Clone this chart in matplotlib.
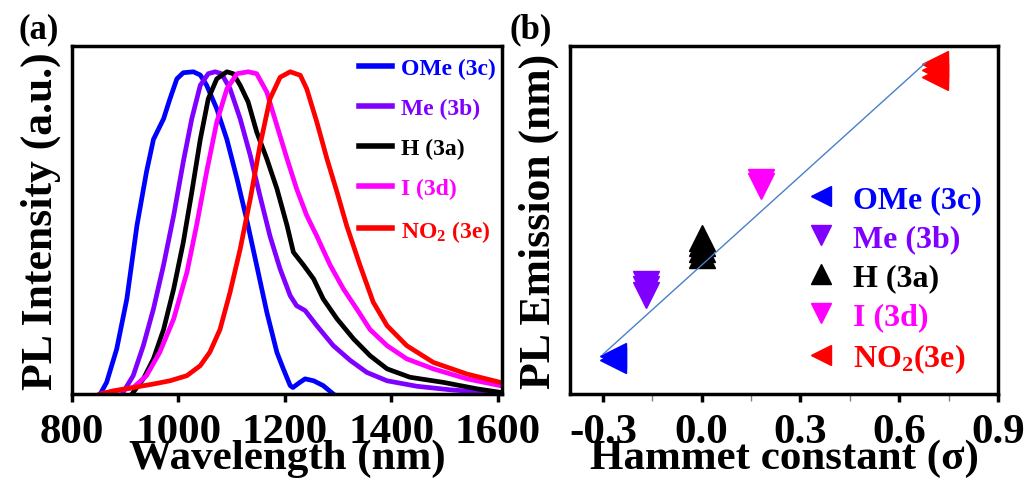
import numpy as np
import matplotlib
matplotlib.use("Agg")
import matplotlib.pyplot as plt

plt.rcParams['font.family'] = ['Liberation Serif', 'DejaVu Serif']
plt.rcParams['font.weight'] = 'bold'
plt.rcParams['mathtext.fontset'] = 'custom'
plt.rcParams['mathtext.rm'] = 'Liberation Serif:bold'
plt.rcParams['mathtext.it'] = 'Liberation Serif:bold'
plt.rcParams['mathtext.default'] = 'rm'

# ---- panel (a): PL spectra (wavelength nm, normalised intensity) ----
ome_wl = [853, 865, 884, 903, 922, 940, 953, 972, 984, 997, 1009, 1028, 1041, 1053, 1072,
          1091, 1110, 1128, 1147, 1166, 1185, 1197, 1210, 1215, 1228, 1238, 1254, 1272, 1291]
ome_int = [0.0, 0.036, 0.14, 0.295, 0.523, 0.69, 0.79, 0.854, 0.916, 0.978, 0.997, 1.0, 0.99,
           0.958, 0.885, 0.79, 0.668, 0.543, 0.399, 0.254, 0.129, 0.078, 0.026, 0.02, 0.036,
           0.047, 0.041, 0.026, 0.0]

me_wl = [896, 915, 934, 953, 972, 991, 1009, 1025, 1041, 1056, 1069, 1081, 1097, 1116, 1135,
         1153, 1172, 1191, 1210, 1222, 1238, 1260, 1291, 1323, 1354, 1392, 1448, 1511, 1573, 1605]
me_int = [0.005, 0.057, 0.15, 0.264, 0.4, 0.554, 0.72, 0.854, 0.958, 0.994, 1.0, 0.994, 0.947,
          0.854, 0.74, 0.616, 0.49, 0.388, 0.305, 0.274, 0.259, 0.212, 0.15, 0.104, 0.067,
          0.041, 0.024, 0.013, 0.005, 0.002]

h_wl = [915, 934, 953, 972, 991, 1009, 1025, 1041, 1056, 1072, 1091, 1103, 1116, 1131, 1147,
        1166, 1185, 1204, 1216, 1235, 1254, 1272, 1298, 1329, 1360, 1392, 1435, 1498, 1561, 1605]
h_int = [0.005, 0.047, 0.109, 0.2, 0.326, 0.47, 0.626, 0.79, 0.916, 0.978, 1.0, 0.994, 0.958,
         0.906, 0.813, 0.73, 0.637, 0.523, 0.44, 0.4, 0.357, 0.295, 0.233, 0.171, 0.119,
         0.078, 0.052, 0.036, 0.016, 0.005]

i_wl = [853, 915, 940, 965, 991, 1016, 1034, 1053, 1072, 1091, 1110, 1131, 1147, 1166, 1185,
        1204, 1222, 1241, 1260, 1285, 1310, 1335, 1360, 1392, 1429, 1479, 1542, 1605]
i_int = [0.0, 0.02, 0.057, 0.13, 0.233, 0.378, 0.523, 0.69, 0.844, 0.947, 0.994, 1.0, 0.994,
         0.937, 0.833, 0.73, 0.637, 0.554, 0.49, 0.4, 0.326, 0.264, 0.2, 0.15, 0.109, 0.078,
         0.047, 0.026]

no2_wl = [853, 878, 915, 953, 984, 1016, 1041, 1059, 1078, 1097, 1116, 1135, 1153, 1172, 1191,
          1210, 1229, 1241, 1260, 1279, 1298, 1316, 1341, 1366, 1392, 1429, 1479, 1542, 1605]
no2_int = [0.0, 0.01, 0.02, 0.031, 0.041, 0.057, 0.088, 0.13, 0.2, 0.316, 0.45, 0.606, 0.77,
           0.916, 0.983, 1.0, 0.989, 0.947, 0.844, 0.73, 0.626, 0.523, 0.4, 0.285, 0.212,
           0.15, 0.098, 0.062, 0.036]

labels = ['OMe (3c)', 'Me (3b)', 'H (3a)', 'I (3d)', 'NO$_2$ (3e)']
colors = ['#0000ff', '#8000ff', '#000000', '#ff00ff', '#ff0000']

# ---- panel (b): Hammett plot ----
sigma = [-0.27, -0.17, 0.0, 0.18, 0.71]
emission = [[1019, 1022], [1062, 1066, 1069], [1088, 1092, 1096, 1099], [1133, 1136],
            [1205, 1209, 1213]]
markers = ['<', 'v', '^', 'v', '<']
labels_b = ['OMe (3c)', 'Me (3b)', 'H (3a)', 'I (3d)', 'NO$_2$(3e)']
fit_x = [-0.30, 0.68]
fit_y = [1023, 1214]

fig = plt.figure(figsize=(10.26, 4.81), dpi=100)
ax1 = fig.add_axes([0.0702, 0.1788, 0.4191, 0.7235])
ax2 = fig.add_axes([0.5556, 0.1788, 0.4171, 0.7235])

spectra = [(ome_wl, ome_int), (me_wl, me_int), (h_wl, h_int), (i_wl, i_int), (no2_wl, no2_int)]
for (wl, inten), lab, col in zip(spectra, labels, colors):
    ax1.plot(wl, inten, color=col, lw=3.4, label=lab, solid_joinstyle='round')

ax1.set_xlim(800, 1608)
ax1.set_ylim(0, 1.08)
ax1.set_xticks([800, 1000, 1200, 1400, 1600])
ax1.set_yticks([])
ax1.set_xlabel('Wavelength (nm)', fontsize=31, fontweight='bold', labelpad=-9)
ax1.set_ylabel('PL Intensity (a.u.)', fontsize=31.5, fontweight='bold', labelpad=8)
leg1 = ax1.legend(loc='upper right', frameon=False, fontsize=17, handlelength=1.4,
                  handletextpad=0.35, labelspacing=0.78, borderaxespad=0.1,
                  bbox_to_anchor=(1.012, 1.0))
for txt, col in zip(leg1.get_texts(), colors):
    txt.set_color(col)
for ln in leg1.get_lines():
    ln.set_linewidth(4)

for s, ys, m, col, lab in zip(sigma, emission, markers, colors, labels_b):
    ax2.plot([s] * len(ys), ys, linestyle='none', marker=m, color=col, markersize=19)
    ax2.plot([], [], linestyle='none', marker=m, color=col, markersize=14, label=lab)
ax2.plot(fit_x, fit_y, color='#4a7fc8', lw=1)

ax2.set_xlim(-0.4, 0.9)
ax2.set_ylim(997, 1225)
ax2.set_xticks([-0.3, 0.0, 0.3, 0.6, 0.9])
ax2.set_xticklabels(['-0.3', '0.0', '0.3', '0.6', '0.9'])
ax2.set_xticks([-0.15, 0.15, 0.45, 0.75], minor=True)
ax2.set_yticks([])
ax2.set_xlabel('Hammet constant (σ)', fontsize=31, fontweight='bold', labelpad=-9)
ax2.set_ylabel('PL Emission (nm)', fontsize=31.5, fontweight='bold', labelpad=8)
leg2 = ax2.legend(loc='lower right', frameon=False, fontsize=23, handlelength=0.8,
                  handletextpad=0.6, labelspacing=0.3, borderaxespad=0.1,
                  bbox_to_anchor=(1.0, 0.01))
for txt, col in zip(leg2.get_texts(), colors):
    txt.set_color(col)

for ax in (ax1, ax2):
    for sp in ax.spines.values():
        sp.set_linewidth(2.5)
    ax.tick_params(axis='x', which='major', direction='out', length=6, width=2.5,
                   labelsize=31, pad=8)
    for t in ax.get_xticklabels():
        t.set_fontweight('bold')
ax2.tick_params(axis='x', which='minor', direction='out', length=5, width=1, color='gray')

fig.text(0.018, 0.92, '(a)', fontsize=25, fontweight='bold')
fig.text(0.497, 0.92, '(b)', fontsize=25, fontweight='bold')

fig.savefig('out.png', dpi=100)
